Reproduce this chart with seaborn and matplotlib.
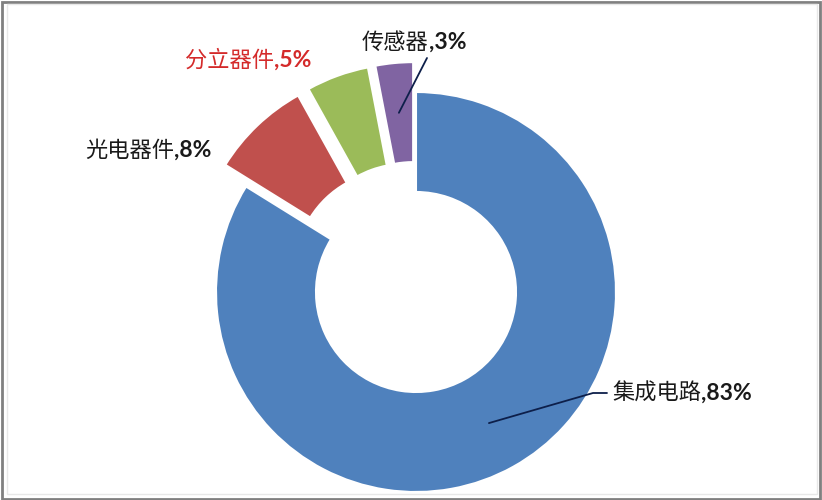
import numpy as np
import seaborn as sns
import matplotlib.pyplot as plt
from matplotlib.patches import Rectangle

categories = ["集成电路", "光电器件", "分立器件", "传感器"]
shares = [83, 8, 5, 3]
colors = ["#4F81BD", "#C0504D", "#9BBB59", "#8064A2"]
explode = [0, 0.15, 0.15, 0.15]
label_colors = ["#1a1a1a", "#1a1a1a", "#D42A2A", "#1a1a1a"]

sns.set_theme(style="white")
plt.rcParams['font.family'] = ['Noto Sans CJK SC', 'DejaVu Sans']

fig = plt.figure(figsize=(8.22, 5), dpi=100)
ax = fig.add_axes([0, 0, 1, 1])

wedges, _ = ax.pie(shares, colors=colors, explode=explode, startangle=90,
                   counterclock=False, radius=1,
                   wedgeprops=dict(width=0.5, edgecolor="white", linewidth=1.5))

# centre of the ring sits at pixel (416, 292), outer radius 200 px
ax.set_xlim(-416 / 200, (822 - 416) / 200)
ax.set_ylim(-(500 - 292) / 200, 292 / 200)
ax.set_aspect("equal")
ax.axis("off")

# label positions (left edge, vertical centre) in data units
label_pos = {
    "集成电路": (0.98, -0.505),
    "光电器件": (-1.655, 0.71),
    "分立器件": (-1.155, 1.16),
    "传感器": (-0.27, 1.25),
}

for i, (name, val) in enumerate(zip(categories, shares)):
    x, y = label_pos[name]
    t = ax.text(x, y, name, fontsize=16, color=label_colors[i],
                ha="left", va="center", family=['Noto Sans CJK SC', 'DejaVu Sans'])
    ax.annotate(f",{val}%", xy=(1, 0.5), xycoords=t, ha="left", va="center",
                fontsize=16.5, fontweight="bold", color=label_colors[i],
                family=['Lato', 'DejaVu Sans'])

# leader lines from the middle of the ring
total = sum(shares)
cum = np.cumsum([0] + shares)
def mid_point(i, r):
    frac = (cum[i] + shares[i] / 2) / total
    ang = np.deg2rad(90 - frac * 360)
    rr = r + explode[i]
    return rr * np.cos(ang), rr * np.sin(ang)

x0, y0 = mid_point(0, 0.75)
ax.plot([x0, 0.885, 0.955], [y0, -0.505, -0.505], color="#0d1f4a", lw=1.3)
x0, y0 = mid_point(3, 0.75)
ax.plot([x0, 0.055], [y0, 1.17], color="#0d1f4a", lw=1.3)

# picture frame
fig.patches.append(Rectangle((0.002, 0.003), 0.996, 0.994, transform=fig.transFigure,
                             fill=False, edgecolor="#808080", lw=2))
fig.patches.append(Rectangle((0.008, 0.012), 0.986, 0.98, transform=fig.transFigure,
                             fill=False, edgecolor="#e8e8e8", lw=1))

fig.savefig("out.png", dpi=100)
